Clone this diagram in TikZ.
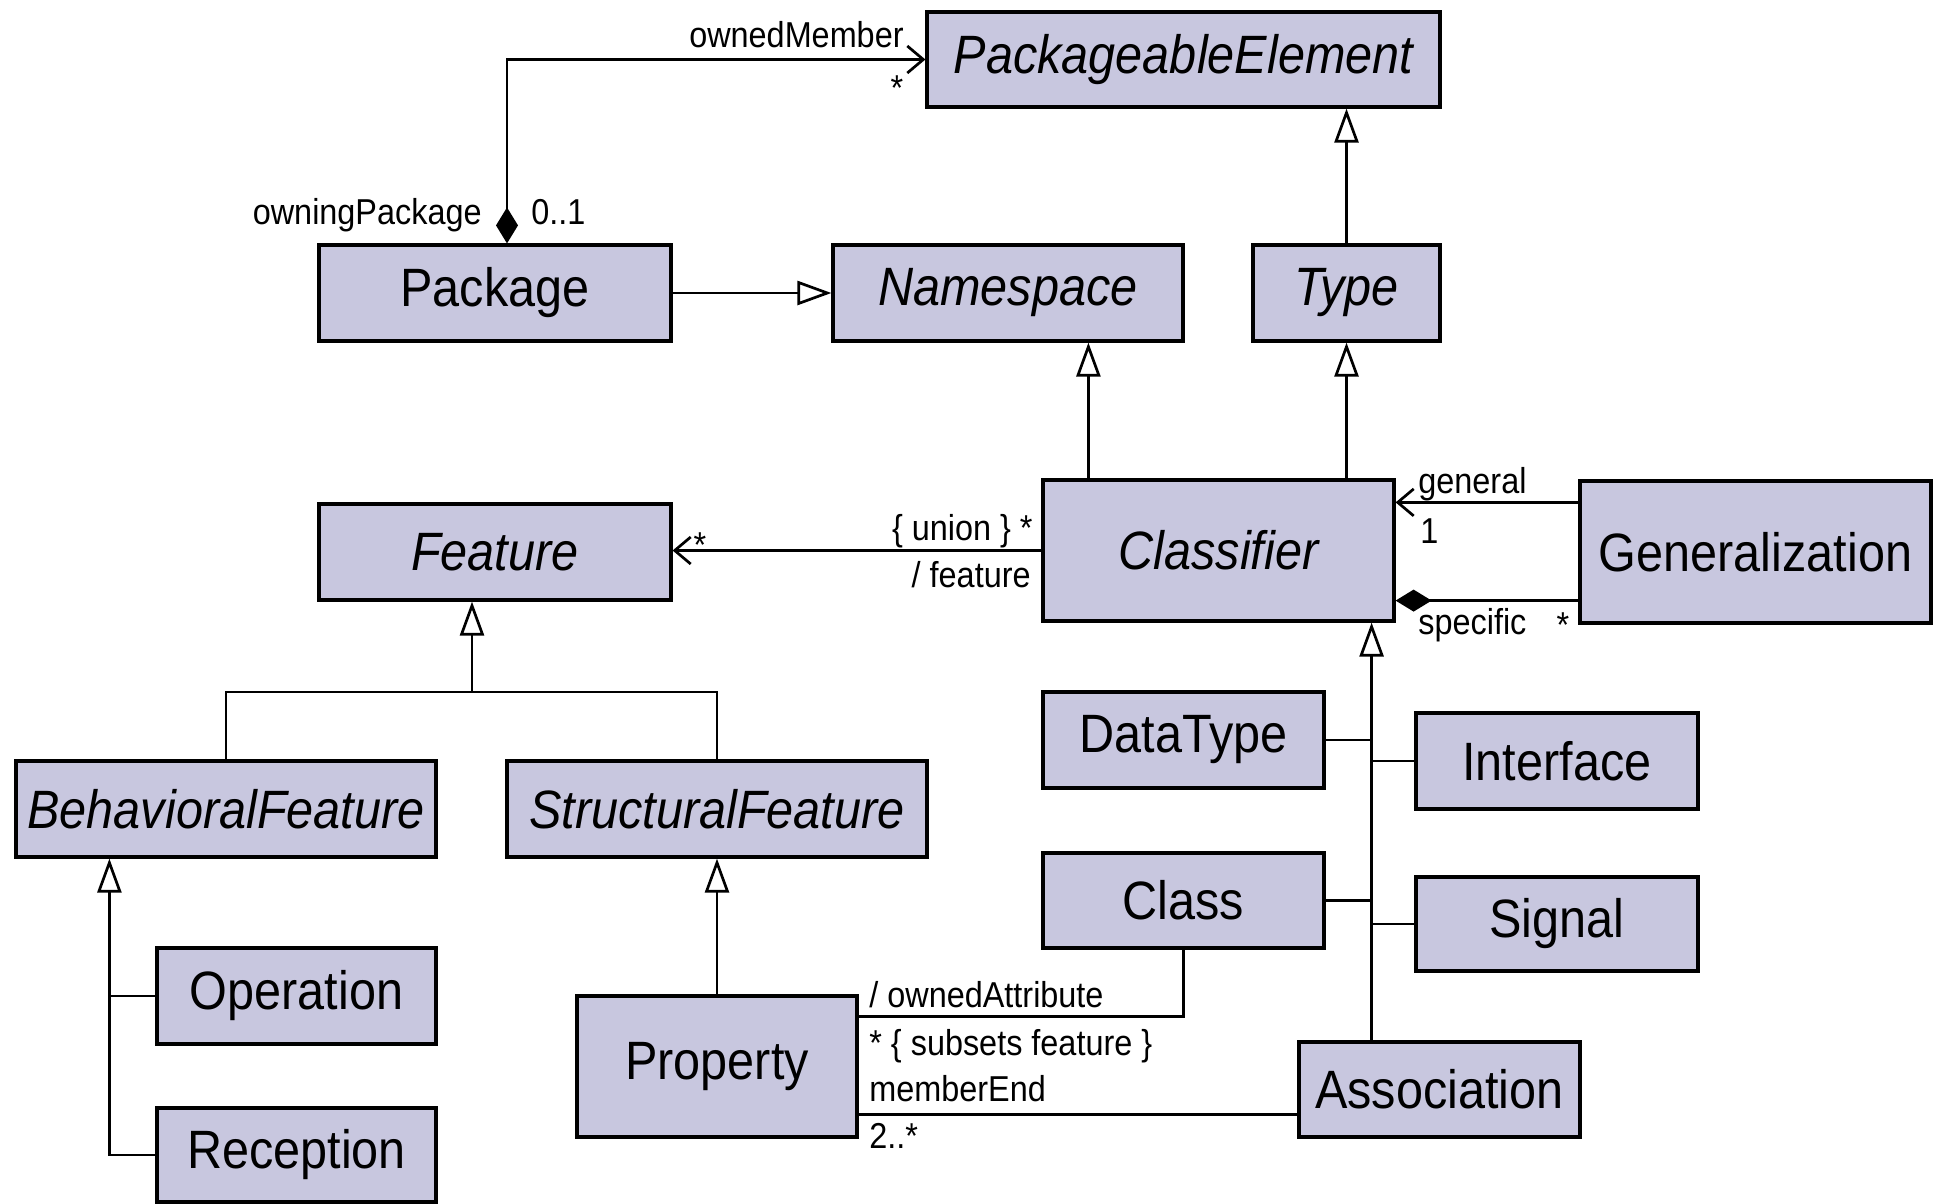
\documentclass[tikz,border=0pt]{standalone}
\usepackage{fontspec}
\setmainfont{Liberation Sans}[FakeStretch=0.9]
\usetikzlibrary{arrows.meta,calc}
\definecolor{umlfill}{RGB}{200,199,223}
\tikzset{
  box/.style={draw=black, line width=1.6pt, fill=umlfill, inner sep=0pt, font=\fontsize{27pt}{32pt}\selectfont},
  abs/.style={font=\fontsize{27pt}{32pt}\selectfont\itshape},
  sz/.style 2 args={minimum width=#1*0.5pt, minimum height=#2*0.5pt},
  conn/.style={draw=black, line width=1.35pt},
  lbl/.style={inner sep=0pt, font=\fontsize{18pt}{21pt}\selectfont},
  gentri/.tip={Triangle[fill=white, length=17pt, width=12pt]},
  barb/.tip={Straight Barb[length=8pt, width=13.5pt]},
  comp/.tip={Diamond[length=18pt, width=11pt]},
}
\begin{document}
\begin{tikzpicture}[x=0.5pt,y=-0.5pt]
\fill[white] (0,0) rectangle (1933,1204);
\path[use as bounding box] (0,0) rectangle (1933,1204);

% boxes
\node[box, abs, sz={513}{95}] (pe) at (1183.5,59.5) {PackageableElement};
\node[box, sz={352}{96}] (pkg) at (495,293) {Package};
\node[box, abs, sz={350}{96}] (ns) at (1008,293) {Namespace};
\node[box, abs, sz={187}{96}] (type) at (1346.5,293) {Type};
\node[box, abs, sz={352}{96}] (feat) at (495,552) {Feature};
\node[box, abs, sz={351}{141}] (cls) at (1218.5,550.5) {Classifier};
\node[box, sz={351}{142}] (gen) at (1755.5,552) {Generalization};
\node[box, abs, sz={420}{96}] (bf) at (226,809) {BehavioralFeature};
\node[box, abs, sz={420}{96}] (sf) at (717,809) {StructuralFeature};
\node[box, sz={281}{96}] (dt) at (1183.5,740) {DataType};
\node[box, sz={282}{96}] (intf) at (1557,761) {Interface};
\node[box, sz={281}{95}] (class) at (1183.5,900.5) {Class};
\node[box, sz={282}{94}] (sig) at (1557,924) {Signal};
\node[box, sz={279}{96}] (op) at (296.5,996) {Operation};
\node[box, sz={279}{94}] (rec) at (296.5,1155) {Reception};
\node[box, sz={280}{141}] (prop) at (717,1066.5) {Property};
\node[box, sz={281}{95}] (assoc) at (1439.5,1089.5) {Association};

% helper coordinates
\coordinate (pk) at ([xshift=6pt]pkg.north);
\coordinate (c1) at ([xshift=23.5pt]cls.north west);
\coordinate (g1) at ([yshift=-11.5pt]gen.north west);
\coordinate (g2) at ([yshift=12pt]gen.south west);
\coordinate (f1) at ([xshift=-11.5pt]feat.south);
\coordinate (fy) at (0,692);
\coordinate (b1) at ([xshift=47.5pt]bf.south west);
\coordinate (k1) at ([xshift=-12pt]cls.south east);
\coordinate (p1) at ([yshift=-11pt]prop.north east);
\coordinate (p2) at ([yshift=12pt]prop.south east);

% connectors
\draw[conn, arrows={comp-barb}] (pk) |- (pe.west);
\draw[conn, arrows={-gentri}] (pkg.east) -- (ns.west);
\draw[conn, arrows={-gentri}] (type.north) -- (type.north |- pe.south);
\draw[conn, arrows={-gentri}] (c1) -- (c1 |- ns.south);
\draw[conn, arrows={-gentri}] (cls.north -| type.south) -- (type.south);
\draw[conn, arrows={-barb}] (cls.west) -- (cls.west -| feat.east);
\draw[conn, arrows={-barb}] (g1) -- (g1 -| cls.east);
\draw[conn, arrows={-comp}] (g2) -- (g2 -| cls.east);
\draw[conn] (bf.north) -- (bf.north |- fy) -- (sf.north |- fy) -- (sf.north);
\draw[conn, arrows={-gentri}] (f1 |- fy) -- (f1);
\draw[conn, arrows={-gentri}] (rec.west) -| (b1);
\draw[conn] (op.west) -- (op.west -| b1);
\draw[conn, arrows={-gentri}] (prop.north) -- (prop.north |- sf.south);
\draw[conn, arrows={-gentri}] (k1 |- assoc.north) -- (k1);
\draw[conn] (dt.east) -- (dt.east -| k1);
\draw[conn] (intf.west) -- (intf.west -| k1);
\draw[conn] (class.east) -- (class.east -| k1);
\draw[conn] (sig.west) -- (sig.west -| k1);
\draw[conn] (p1) -| (class.south);
\draw[conn] (p2) -- (p2 -| assoc.west);

% labels
\node[lbl, anchor=base east] (l1) at (904,48) {ownedMember};
\node[lbl, anchor=base] (l2) at (897,101) {*};
\node[lbl, anchor=base east] (l3) at (482,224) {owningPackage};
\node[lbl, anchor=base west] (l4) at (531,224) {0..1};
\node[lbl, anchor=base east] (l5) at (1033,540) {\{ union \} *};
\node[lbl, anchor=base east] (l6) at (1031,587) {/ feature};
\node[lbl, anchor=base] (l7) at (700,557) {*};
\node[lbl, anchor=base west] (l8) at (1418,493) {general};
\node[lbl, anchor=base west] (l9) at (1420,543) {1};
\node[lbl, anchor=base west] (l10) at (1418,634) {specific};
\node[lbl, anchor=base] (l11) at (1563,637) {*};
\node[lbl, anchor=base west] (l12) at (869,1007) {/ ownedAttribute};
\node[lbl, anchor=base west] (l13) at (869,1055) {* \{ subsets feature \}};
\node[lbl, anchor=base west] (l14) at (869,1101) {memberEnd};
\node[lbl, anchor=base west] (l15) at (869,1148) {2..*};
\end{tikzpicture}
\end{document}
